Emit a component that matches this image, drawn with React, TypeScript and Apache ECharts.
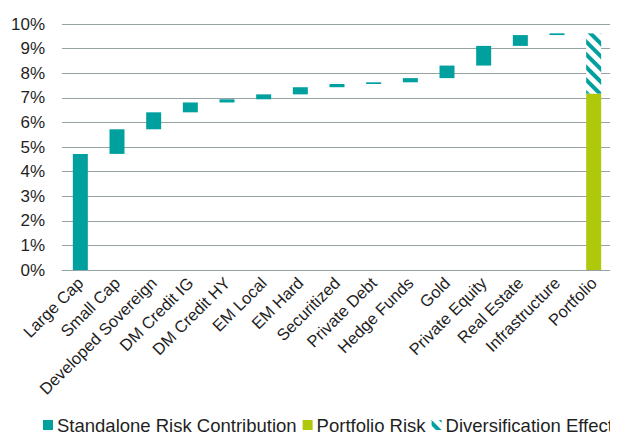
import React, { useEffect, useRef } from "react";
import * as echarts from "echarts";

const categories = [
  "Large Cap",
  "Small Cap",
  "Developed Sovereign",
  "DM Credit IG",
  "DM Credit HY",
  "EM Local",
  "EM Hard",
  "Securitized",
  "Private Debt",
  "Hedge Funds",
  "Gold",
  "Private Equity",
  "Real Estate",
  "Infrastructure",
  "Portfolio",
];

// standalone risk contributions (%) for the 14 asset classes
const standalone = [4.72, 1.0, 0.69, 0.4, 0.13, 0.2, 0.29, 0.13, 0.07, 0.17, 0.51, 0.8, 0.44, 0.07];
// portfolio risk (%)
const portfolioRisk = 7.17;

const yTicks = [0, 1, 2, 3, 4, 5, 6, 7, 8, 9, 10];

const TEAL = "#00A09E";
const GREEN = "#B0C80A";
const GRID = "#95A3A3";
const TEXT = "#1F1F1F";
const FONT = "Liberation Sans, Arial, sans-serif";

export default function App() {
  const ref = useRef<HTMLDivElement>(null);

  useEffect(() => {
    if (!ref.current) return;
    const chart = echarts.init(ref.current, undefined, { renderer: "svg" });

    const base: (number | string)[] = [];
    let cum = 0;
    standalone.forEach((v) => {
      base.push(+cum.toFixed(4));
      cum += v;
    });
    const total = +cum.toFixed(4);
    base.push(0);

    const standaloneData: (number | string)[] = [...standalone, "-"];
    const portfolioData: (number | string)[] = standalone.map(() => "-");
    portfolioData.push(portfolioRisk);
    const diversData: (number | string)[] = standalone.map(() => "-");
    diversData.push(+(total - portfolioRisk).toFixed(4));

    chart.setOption({
      animation: false,
      grid: { left: 62, right: 6, top: 24, bottom: 170, containLabel: false },
      legend: {
        data: ["Standalone Risk Contribution", "Portfolio Risk", "Diversification Effect"],
        left: 43,
        top: 415,
        width: 575,
        padding: 0,
        itemWidth: 10,
        itemHeight: 10,
        itemGap: 6,
        icon: "rect",
        textStyle: { fontSize: 18.5, lineHeight: 20, color: TEXT, fontFamily: FONT, padding: [0, 0, 0, -1] },
      },
      xAxis: {
        type: "category",
        data: categories,
        axisTick: { show: false },
        axisLine: { show: true, lineStyle: { color: GRID, width: 1 } },
        axisLabel: {
          interval: 0,
          rotate: 45,
          fontSize: 16.5,
          color: TEXT,
          margin: 10,
          fontFamily: FONT,
        },
      },
      yAxis: {
        type: "value",
        min: yTicks[0],
        max: yTicks[yTicks.length - 1],
        interval: 1,
        axisLine: { show: false },
        axisTick: { show: false },
        splitLine: { lineStyle: { color: GRID, width: 1 } },
        axisLabel: {
          formatter: "{value}%",
          fontSize: 17,
          color: TEXT,
          margin: 17,
          fontFamily: FONT,
        },
      },
      series: [
        {
          name: "base",
          type: "bar",
          stack: "total",
          data: base,
          barWidth: 15,
          itemStyle: { color: "transparent" },
          silent: true,
        },
        {
          name: "Standalone Risk Contribution",
          type: "bar",
          stack: "total",
          data: standaloneData,
          barWidth: 15,
          itemStyle: { color: TEAL },
        },
        {
          name: "Portfolio Risk",
          type: "bar",
          stack: "total",
          data: portfolioData,
          barWidth: 15,
          itemStyle: { color: GREEN },
        },
        {
          name: "Diversification Effect",
          type: "bar",
          stack: "total",
          data: diversData,
          barWidth: 15,
          itemStyle: {
            color: "#ffffff",
            decal: {
              symbol: "rect",
              symbolSize: 1,
              color: TEAL,
              backgroundColor: "#ffffff",
              dashArrayX: [[1, 0]],
              dashArrayY: [4, 5],
              rotation: Math.PI / 4,
            },
          },
        },
      ],
    });

    return () => chart.dispose();
  }, []);

  return <div ref={ref} style={{ width: 618, height: 440, margin: -8 }} />;
}
